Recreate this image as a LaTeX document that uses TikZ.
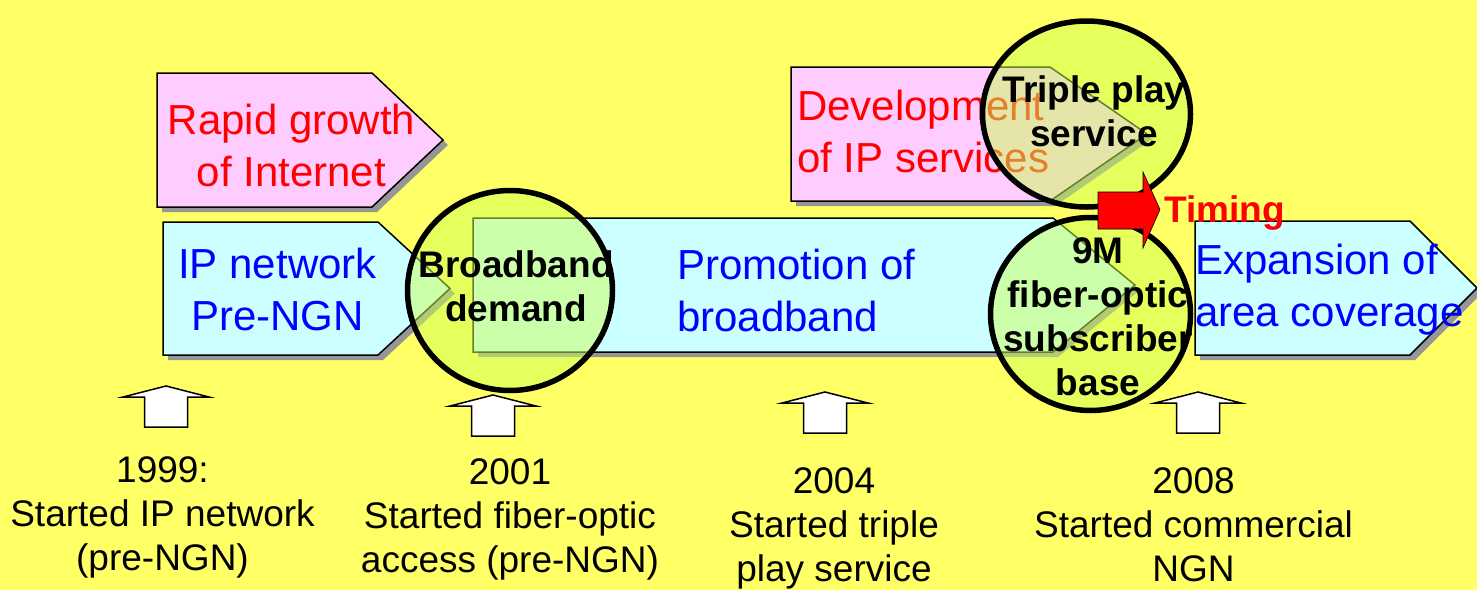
\documentclass[tikz,border=0pt]{standalone}
\usepackage{fontspec}
\setmainfont{Liberation Sans}
\definecolor{bgyellow}{RGB}{255,255,102}
\definecolor{pinkfill}{RGB}{255,204,255}
\definecolor{cyanfill}{RGB}{204,255,255}
\definecolor{shadowgray}{RGB}{150,150,150}
\definecolor{limefill}{RGB}{204,255,85}
\definecolor{textblue}{RGB}{0,0,255}
\definecolor{textred}{RGB}{255,0,0}
\newcommand\lineblock[2]{\begin{tabular}[t]{@{}#1@{}}#2\end{tabular}}
\tikzset{
  stagebox/.style={draw=black, line width=1.5, line join=miter},
  stagetext/.style={inner sep=0, font=\fontsize{42}{52}\selectfont},
  notetext/.style={inner sep=0, font=\fontsize{37}{44}\selectfont, anchor=base},
  focustext/.style={inner sep=0, font=\bfseries\fontsize{37}{44}\selectfont, anchor=base},
  focusring/.style={draw=black, line width=5.5, fill=limefill, fill opacity=0.5},
  upbox/.style={draw=black, fill=white, line width=1.5, line join=miter},
}
\begin{document}
\begin{tikzpicture}[x=1pt,y=-1pt]
\fill[bgyellow] (0,0) rectangle (1477,590);
\useasboundingbox (0,0) rectangle (1477,590);

% stage arrows: left/top/body-right/tip/bottom/fill
\foreach \l/\t/\r/\p/\b in {157/73/372/443/207, 163/222/378/450/355,
    473/218/1053/1135/352, 791/67/1050/1147/201, 1195/221/1410/1477/355}{
  \fill[shadowgray, shift={(5,5)}] (\l,\t) -- (\r,\t) -- (\p,{(\t+\b)/2}) -- (\r,\b) -- (\l,\b) -- cycle;
}
\foreach \l/\t/\r/\p/\b/\c in {157/73/372/443/207/pinkfill, 163/222/378/450/355/cyanfill,
    473/218/1053/1135/352/cyanfill, 791/67/1050/1147/201/pinkfill, 1195/221/1410/1477/355/cyanfill}{
  \draw[stagebox, fill=\c] (\l,\t) -- (\r,\t) -- (\p,{(\t+\b)/2}) -- (\r,\b) -- (\l,\b) -- cycle;
}

% texts inside the stage arrows
\node[stagetext, textred, anchor=base] (growth) at (291.5,134) {\lineblock{c}{Rapid growth\\of Internet}};
\node[stagetext, textblue, anchor=base] (ipnet) at (277.5,278) {\lineblock{c}{IP network\\Pre-NGN}};
\node[stagetext, textblue, anchor=base west] (promo) at (677,279) {\lineblock{l}{Promotion of\\broadband}};
\node[stagetext, textred, anchor=base west] (ipserv) at (797,120) {\lineblock{l}{Development\\of IP services}};
\node[stagetext, textblue, anchor=base west] (expand) at (1195,274) {\lineblock{l}{Expansion of\\area coverage}};

% up arrows marking the milestones
\foreach \cx/\ty in {166/386, 493/395, 825/392, 1198/392}{
  \draw[upbox] (\cx-21.5,\ty+41) -- (\cx-21.5,\ty+11) -- (\cx-43,\ty+11) -- (\cx,\ty)
    -- (\cx+43,\ty+11) -- (\cx+21.5,\ty+11) -- (\cx+21.5,\ty+41) -- cycle;
}

% milestone captions
\node[notetext] (y1999) at (162.5,482) {\lineblock{c}{1999:\\Started IP network\\(pre-NGN)}};
\node[notetext] (y2001) at (510,484) {\lineblock{c}{2001\\Started fiber-optic\\access (pre-NGN)}};
\node[notetext] (y2004) at (834,493) {\lineblock{c}{2004\\Started triple\\play service}};
\node[notetext] (y2008) at (1193.5,493) {\lineblock{c}{2008\\Started commercial\\NGN}};

% highlighted drivers
\draw[focusring] (510,290.5) ellipse [x radius=102.5, y radius=100];
\draw[focusring] (1086.5,114) ellipse [x radius=104, y radius=93];
\draw[focusring] (1090.5,314) ellipse [x radius=100, y radius=96.5];

\node[focustext] (demand) at (516,277) {\lineblock{c}{Broadband\\demand}};
\node[focustext] (triple) at (1094,102) {\lineblock{c}{Triple play\\service}};
\node[focustext] (subs) at (1098,263) {\lineblock{c}{9M\\fiber-optic\\subscriber\\base}};

% timing arrow
\draw[fill=textred, draw=black, line width=0.6, line join=miter]
  (1098,192) -- (1143,192) -- (1143,172) -- (1160,209.5) -- (1143,248) -- (1143,229) -- (1098,229) -- cycle;
\node[focustext, textred, anchor=base west] (timing) at (1164,222) {Timing};
\end{tikzpicture}
\end{document}
